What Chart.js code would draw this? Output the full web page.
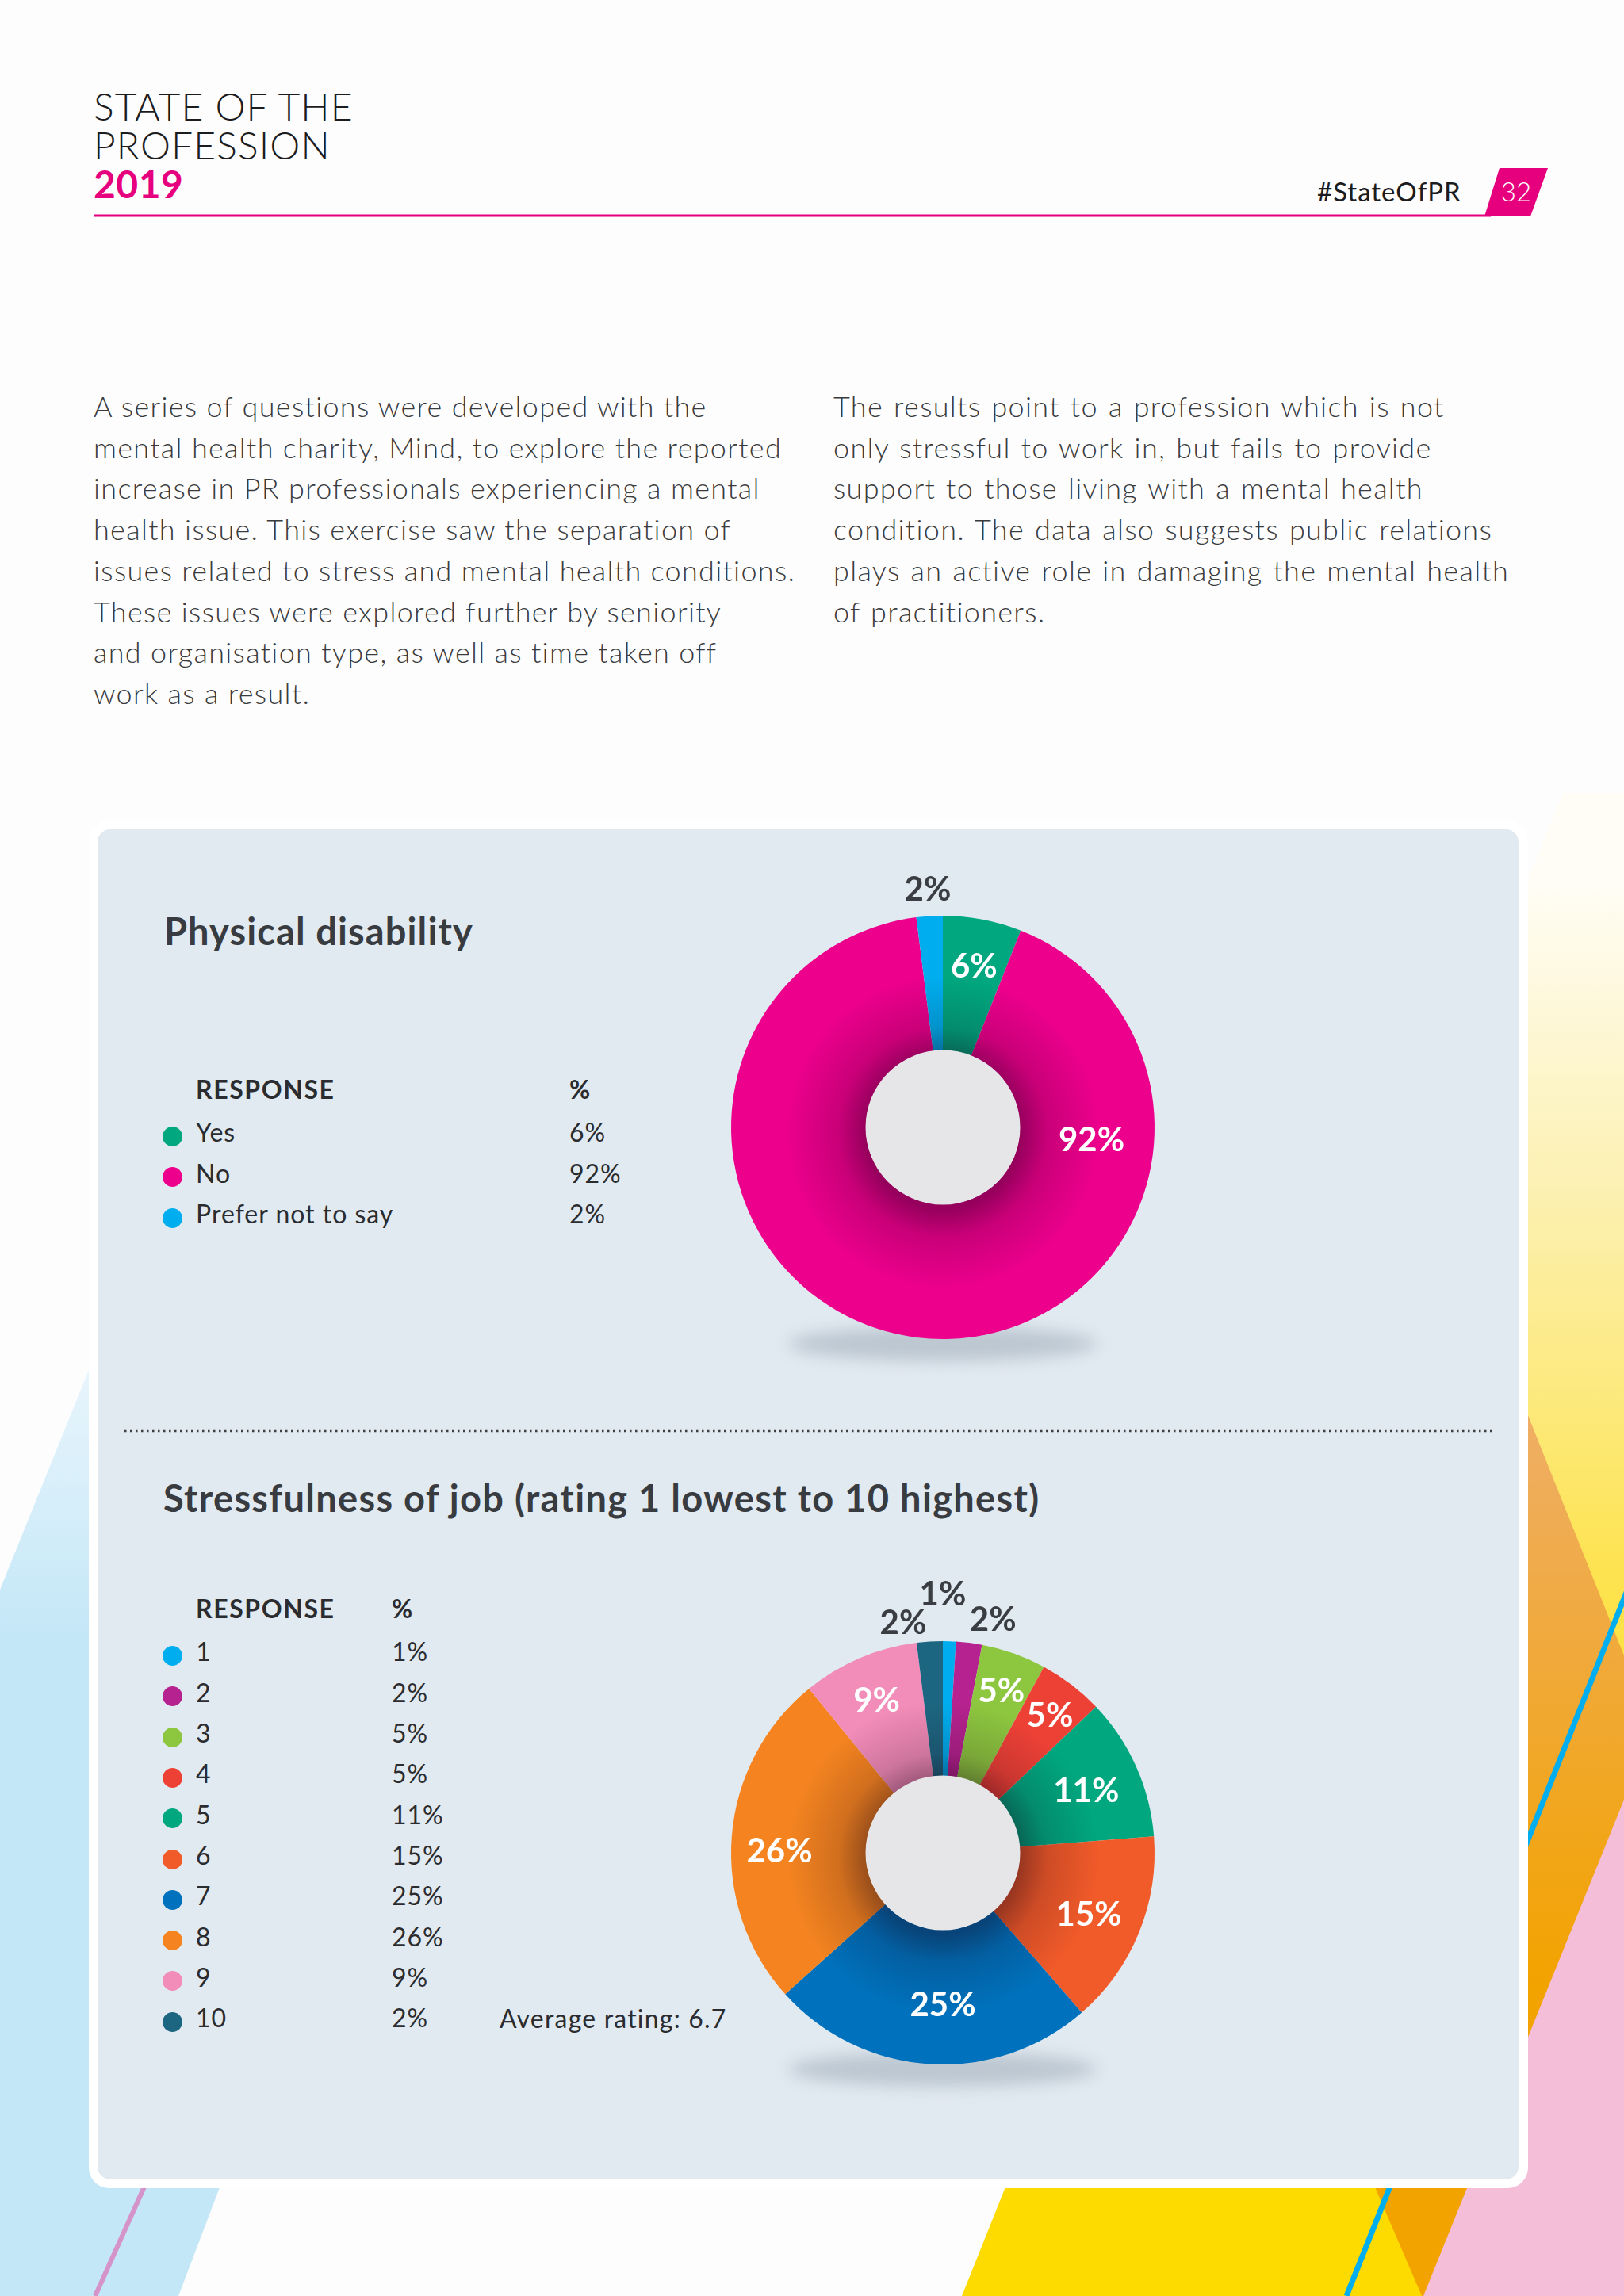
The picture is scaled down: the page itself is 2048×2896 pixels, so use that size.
<!DOCTYPE html>
<html>
<head>
<meta charset="utf-8">
<script src="https://cdn.jsdelivr.net/npm/chart.js@4.4.1/dist/chart.umd.min.js"></script>
<style>
  html, body { margin: 0; padding: 0; }
  body {
    width: 2048px; height: 2896px; position: relative; overflow: hidden;
    background: #fdfdfe; font-family: Lato, 'Noto Sans', sans-serif; color: #2c2e31;
  }
  .abs { position: absolute; white-space: nowrap; }
  #bg { position: absolute; left: 0; top: 0; }
  .head { left: 118px; font-size: 48px; line-height: 40px; height: 40px; font-weight: 300; color: #1c1c1e; letter-spacing: 1.1px; }
  .head.yr { color: #e6007e; font-weight: 700; letter-spacing: 0.5px; }
  .tag { left: 1661px; top: 221px; font-size: 33px; line-height: 40px; font-weight: 400; color: #1c1c1e; letter-spacing: 1px; }
  .pageno { left: 1884px; top: 221px; width: 56px; text-align: center; font-size: 33px; line-height: 40px; font-weight: 300; color: #fff; }
  .para { top: 487px; font-size: 36px; line-height: 51.7px; font-weight: 300; color: #3a3b3d; letter-spacing: 1.3px; }
  .para.r { word-spacing: 2px; }
  .panel { left: 112px; top: 1035px; width: 1815px; height: 1725px; background: #fff; border-radius: 26px; }
  .panel-in { left: 123px; top: 1046px; width: 1792px; height: 1703px; background: #e2eaf1; border-radius: 16px; }
  .title { font-size: 47px; line-height: 56px; font-weight: 700; color: #383b40; letter-spacing: 1.1px; }
  .lg { font-size: 32px; line-height: 38px; font-weight: 400; color: #2a2c2f; letter-spacing: 1px; }
  .lg.hd { font-weight: 700; letter-spacing: 1.6px; }
  .dot { position: absolute; width: 25px; height: 25px; border-radius: 50%; }
  canvas.pie { position: absolute; }
</style>
</head>
<body>
<svg id="bg" width="2048" height="2896" viewBox="0 0 2048 2896">
  <defs>
    <linearGradient id="yel" gradientUnits="userSpaceOnUse" x1="0" y1="1110" x2="0" y2="2700">
      <stop offset="0" stop-color="#fffdf6"/>
      <stop offset="0.25" stop-color="#fcf0b0"/>
      <stop offset="0.55" stop-color="#fde350"/>
      <stop offset="1" stop-color="#fddb00"/>
    </linearGradient>
    <linearGradient id="org" gradientUnits="userSpaceOnUse" x1="0" y1="1780" x2="0" y2="2500">
      <stop offset="0" stop-color="#efae66"/>
      <stop offset="1" stop-color="#f2a300"/>
    </linearGradient>
    <linearGradient id="blu" gradientUnits="userSpaceOnUse" x1="0" y1="1728" x2="0" y2="2060">
      <stop offset="0" stop-color="#e8f5fc"/>
      <stop offset="1" stop-color="#c4e7f7"/>
    </linearGradient>
  </defs>
  <polygon points="1971,1000 2048,1000 2048,2896 1213,2896" fill="url(#yel)"/>
  <polygon points="997,1045 1631,1045 2048,2088 2048,2896 1793,2896" fill="url(#org)"/>
  <polygon points="2048,2270 2048,2896 1795,2896" fill="#f4bed8"/>
  <line x1="2060" y1="1986" x2="1698" y2="2896" stroke="#00aeef" stroke-width="7"/>
  <polygon points="112,1728 669,1728 225,2896 0,2896 0,2005" fill="url(#blu)"/>
  <line x1="120" y1="2896" x2="300" y2="2496" stroke="#d493c9" stroke-width="6"/>
  <line x1="118" y1="272" x2="1880" y2="272" stroke="#e6007e" stroke-width="3"/>
  <polygon points="1891,212 1952,212 1930,273 1872,273" fill="#e6007e"/>
</svg>

<div class="abs head" style="top:114px">STATE OF THE</div>
<div class="abs head" style="top:163px">PROFESSION</div>
<div class="abs head yr" style="top:212px">2019</div>
<div class="abs tag">#StateOfPR</div>
<div class="abs pageno">32</div>

<div class="abs para" style="left:118px">A series of questions were developed with the<br>mental health charity, Mind, to explore the reported<br>increase in PR professionals experiencing a mental<br>health issue. This exercise saw the separation of<br>issues related to stress and mental health conditions.<br>These issues were explored further by seniority<br>and organisation type, as well as time taken off<br>work as a result.</div>
<div class="abs para r" style="left:1051px">The results point to a profession which is not<br>only stressful to work in, but fails to provide<br>support to those living with a mental health<br>condition. The data also suggests public relations<br>plays an active role in damaging the mental health<br>of practitioners.</div>

<div class="abs panel"></div>
<div class="abs panel-in"></div>
<svg class="abs" style="left:0;top:0" width="2048" height="2896">
  <line x1="157" y1="1805" x2="1884" y2="1805" stroke="#3d3f42" stroke-width="2.5" stroke-dasharray="2.5 4.5"/>
</svg>

<div class="abs title" style="left:207px; top:1146px">Physical disability</div>
<div class="abs title" style="left:206px; top:1861px; letter-spacing:1.3px">Stressfulness of job (rating 1 lowest to 10 highest)</div>

<div id="legend1"></div>
<div id="legend2"></div>
<div class="abs lg" id="avgRating" style="left:630px; top:2527px; letter-spacing:1.2px"></div>

<canvas id="disabilityChart" class="pie" width="760" height="760" style="left:809px; top:1042px"></canvas>
<canvas id="stressChart" class="pie" width="760" height="760" style="left:809px; top:1957px"></canvas>

<script>
// Physical disability
const disabilityLabels = ['Yes', 'No', 'Prefer not to say'];
const disabilityValues = [6, 92, 2];
const disabilityColors = ['#00a77f', '#ec008c', '#00aeef'];

// Stressfulness of job, rating 1..10
const stressLabels = ['1', '2', '3', '4', '5', '6', '7', '8', '9', '10'];
const stressValues = [1, 2, 5, 5, 11, 15, 25, 26, 9, 2];
const stressColors = ['#00aeef', '#b6228f', '#8dc63f', '#ee4136', '#00a77f', '#f15a29', '#0071bc', '#f58420', '#f28cb8', '#1d6681'];
const averageRating = 6.7;

// Where each slice label goes (r in px from centre, optional angle in degrees from 12 o'clock)
const disabilityLabelPos = [
    { inside: true, r: 210 },
    { inside: true, r: 188, angle: 94 },
    { inside: false, r: 304 }
];
const stressLabelPos = [
    { inside: false, r: 329, angle: 0 },
    { inside: false, r: 304, angle: 12 },
    { inside: true, r: 220 },
    { inside: true, r: 222 },
    { inside: true, r: 198 },
    { inside: true, r: 199 },
    { inside: true, r: 189, angle: 180 },
    { inside: true, r: 206, angle: 271.4 },
    { inside: true, r: 212 },
    { inside: false, r: 297, angle: -9.7 }
];

// ring geometry, px
const outerR = 267;
const holeR = 97;

/**
 * Builds the RESPONSE / % table next to a chart
 */
const renderLegend = (container, labels, values, colors, firstBaseline, pctX) => {
    const fs = 32;
    const asc = 0.987 * fs + 3; // line-height 38 -> half leading 3
    let html = `<div class="abs lg hd" style="left:247px; top:${firstBaseline - 54 - asc}px">RESPONSE</div>`;
    html += `<div class="abs lg hd" style="left:${pctX}px; top:${firstBaseline - 54 - asc}px">%</div>`;
    labels.forEach((label, i) => {
        const base = firstBaseline + i * 51.3;
        html += `<div class="dot" style="left:205px; top:${base - 23}px; background:${colors[i]}"></div>`;
        html += `<div class="abs lg" style="left:247px; top:${base - asc}px">${label}</div>`;
        html += `<div class="abs lg" style="left:${pctX}px; top:${base - asc}px">${values[i]}%</div>`;
    });
    container.innerHTML = html;
};

// Shadow, hole and value labels drawn around the doughnut arcs
const donutDecor = {
    id: 'donutDecor',
    beforeDatasetsDraw(chart) {
        const arc = chart.getDatasetMeta(0).data[0];
        const { x, y, outerRadius } = arc.getProps(['x', 'y', 'outerRadius'], true);
        const ctx = chart.ctx;
        ctx.save();
        ctx.filter = 'blur(10px)';
        ctx.fillStyle = 'rgba(135,150,165,0.42)';
        ctx.beginPath();
        ctx.ellipse(x, y + outerRadius + 6, 195, 22, 0, 0, Math.PI * 2);
        ctx.fill();
        ctx.restore();
    },
    afterDatasetsDraw(chart, args, opts) {
        const meta = chart.getDatasetMeta(0);
        const values = chart.data.datasets[0].data;
        const ctx = chart.ctx;
        const first = meta.data[0].getProps(['x', 'y', 'innerRadius', 'outerRadius'], true);
        const { x, y, innerRadius, outerRadius } = first;

        // inner shading around the hole
        ctx.save();
        const g = ctx.createRadialGradient(x, y + 6, innerRadius, x, y + 6, innerRadius + 100);
        g.addColorStop(0, 'rgba(20,0,20,0.40)');
        g.addColorStop(0.35, 'rgba(20,0,20,0.16)');
        g.addColorStop(1, 'rgba(20,0,20,0)');
        ctx.beginPath();
        ctx.arc(x, y, outerRadius, 0, Math.PI * 2);
        ctx.arc(x, y, innerRadius, 0, Math.PI * 2, true);
        ctx.fillStyle = g;
        ctx.fill();
        // hole
        ctx.beginPath();
        ctx.arc(x, y, innerRadius + 0.5, 0, Math.PI * 2);
        ctx.fillStyle = '#e6e6e9';
        ctx.fill();
        ctx.restore();

        // value labels
        ctx.save();
        ctx.font = '700 42px Lato, "Noto Sans", sans-serif';
        ctx.textAlign = 'center';
        ctx.textBaseline = 'alphabetic';
        meta.data.forEach((el, i) => {
            const { startAngle, endAngle } = el.getProps(['startAngle', 'endAngle'], true);
            const pos = opts.positions[i];
            const a = pos.angle !== undefined ? (pos.angle - 90) * Math.PI / 180 : (startAngle + endAngle) / 2;
            const lx = x + pos.r * Math.cos(a);
            const ly = y + pos.r * Math.sin(a);
            ctx.fillStyle = pos.inside ? '#ffffff' : '#3a3d42';
            ctx.fillText(`${values[i]}%`, lx, ly + 17);
        });
        ctx.restore();
    }
};

/**
 * Draws one doughnut chart on the given canvas
 */
const renderDonut = (canvasId, labels, values, colors, positions) => {
    const ctx = document.getElementById(canvasId).getContext('2d');
    return new Chart(ctx, {
        type: 'doughnut',
        data: {
            labels: labels,
            datasets: [{
                data: values,
                backgroundColor: colors,
                borderWidth: 0
            }]
        },
        options: {
            responsive: false,
            animation: false,
            events: [],
            radius: outerR,
            cutout: `${(holeR / outerR * 100).toFixed(2)}%`,
            layout: { padding: 0 },
            plugins: {
                legend: { display: false },
                tooltip: { enabled: false },
                donutDecor: { positions: positions }
            }
        },
        plugins: [donutDecor]
    });
};

renderLegend(document.getElementById('legend1'), disabilityLabels, disabilityValues, disabilityColors, 1444, 718);
renderLegend(document.getElementById('legend2'), stressLabels, stressValues, stressColors, 2099, 494);
document.getElementById('avgRating').textContent = `Average rating: ${averageRating}`;

renderDonut('disabilityChart', disabilityLabels, disabilityValues, disabilityColors, disabilityLabelPos);
renderDonut('stressChart', stressLabels, stressValues, stressColors, stressLabelPos);
</script>
</body>
</html>
